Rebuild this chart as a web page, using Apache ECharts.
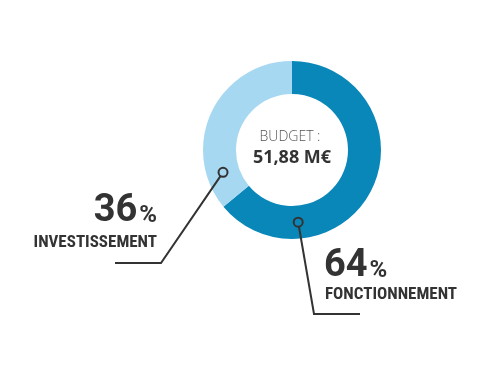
<!DOCTYPE html>
<html><head><meta charset="utf-8">
<script src="https://cdn.jsdelivr.net/npm/echarts@6/dist/echarts.min.js"></script>
<style>html,body{margin:0;padding:0;background:#fff}#c{width:500px;height:375px}</style>
</head><body><div id="c"></div>
<script>
// ---- data ----
const categories = ['FONCTIONNEMENT', 'INVESTISSEMENT'];
const values = [64, 36];
const centerTitle = 'BUDGET :';
const centerValue = '51,88 M€';

// ---- style / layout ----
const colors = ['#0a87b9', '#a6d8f2'];
const CX = 292, CY = 150, R_IN = 56, R_OUT = 89;
const markerFrac = [0.76, 0.167];
const leader = [
  {elbow: [314, 314], end: [360, 314], textX: 324, side: 'left', numY: 266, nameY: 295},
  {elbow: [161, 263], end: [115, 263], textX: 157, side: 'right', numY: 211, nameY: 243}
];
const ink = '#333333';
const NUMFONT = 'Roboto,"Open Sans",sans-serif';
const FONT = '"Liberation Sans Narrow","Roboto Condensed","Arial Narrow",Roboto,sans-serif';

const chart = echarts.init(document.getElementById('c'), null, {renderer: 'canvas'});
const total = values.reduce((a, b) => a + b, 0);

const graphics = [];
let start = 90;
values.forEach((v, i) => {
  const span = v / total * 360;
  const ang = (start - markerFrac[i] * span) * Math.PI / 180;
  const rm = (R_IN + R_OUT) / 2;
  const mx = CX + rm * Math.cos(ang), my = CY - rm * Math.sin(ang);
  start -= span;
  const L = leader[i];
  graphics.push({
    type: 'polyline', z: 10,
    shape: {points: [[mx, my], L.elbow, L.end]},
    style: {stroke: ink, lineWidth: 2, fill: null}
  });
  graphics.push({
    type: 'circle', z: 11,
    shape: {cx: mx, cy: my, r: 4.5},
    style: {fill: colors[i], stroke: ink, lineWidth: 2}
  });
  const pct = Math.round(v / total * 100);
  graphics.push({
    type: 'text', z: 12, x: L.textX, y: L.numY,
    style: {
      text: '{n|' + pct + '}{p|%}',
      align: L.side, verticalAlign: 'middle',
      rich: {
        n: {fontFamily: NUMFONT, fontWeight: 'bold', fontSize: 38, fill: ink, verticalAlign: 'bottom'},
        p: {fontFamily: NUMFONT, fontWeight: 'bold', fontSize: 24, fill: ink, verticalAlign: 'bottom', padding: [0, 0, 2, 2]}
      }
    }
  });
  graphics.push({
    type: 'text', z: 12, x: L.textX + (L.side === 'left' ? 1 : 0), y: L.nameY,
    style: {
      text: categories[i], align: L.side, verticalAlign: 'middle',
      fontFamily: FONT, fontWeight: 'bold', fontSize: 17, fill: ink
    }
  });
});

graphics.push({
  type: 'text', z: 12, x: 290, y: 137,
  style: {text: centerTitle, align: 'center', verticalAlign: 'middle',
    fontFamily: '"Open Sans",sans-serif', fontWeight: 300, fontSize: 14, fill: '#555'}
});
graphics.push({
  type: 'text', z: 12, x: 292, y: 158,
  style: {text: centerValue, align: 'center', verticalAlign: 'middle',
    fontFamily: '"Open Sans",sans-serif', fontWeight: 'bold', fontSize: 18, fill: ink}
});

chart.setOption({
  backgroundColor: '#ffffff',
  animation: false,
  series: [{
    type: 'pie',
    center: [CX, CY],
    radius: [R_IN, R_OUT],
    startAngle: 90,
    clockwise: true,
    silent: true,
    label: {show: false},
    labelLine: {show: false},
    itemStyle: {borderWidth: 0},
    data: categories.map((c, i) => ({name: c, value: values[i], itemStyle: {color: colors[i]}}))
  }],
  graphic: graphics
});
</script>
</body></html>
